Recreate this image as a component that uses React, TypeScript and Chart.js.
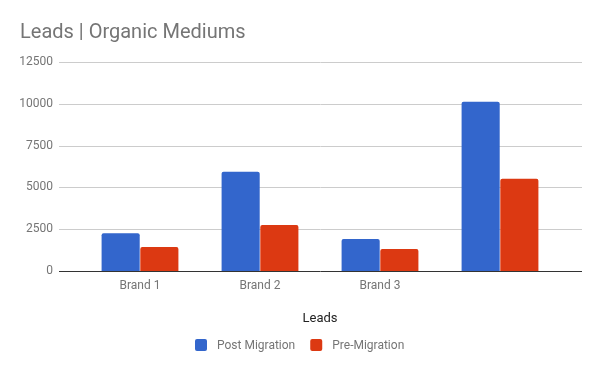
import React, { useEffect, useRef } from "react";
import { Chart, registerables } from "chart.js";
Chart.register(...registerables);

const categories = ["Brand 1", "Brand 2", "Brand 3", ""];
const postMigration = [2260, 5930, 1920, 10120];
const preMigration = [1440, 2750, 1320, 5510];
const yTicks = [0, 2500, 5000, 7500, 10000, 12500];
const seriesNames = ["Post Migration", "Pre-Migration"];
const seriesColors = ["#3366cc", "#dc3912"];
const chartTitle = "Leads | Organic Mediums";
const xAxisTitle = "Leads";

const FONT = "Roboto, 'Noto Sans', sans-serif";

const decor = {
  id: "decor",
  beforeDatasetsDraw(chart: any) {
    const ctx = chart.ctx;
    const y = chart.scales.y;
    ctx.save();
    ctx.strokeStyle = "#cccccc";
    ctx.lineWidth = 1;
    yTicks.forEach((v) => {
      if (v === 0) return;
      const py = Math.round(y.getPixelForValue(v)) + 0.5;
      ctx.beginPath();
      ctx.moveTo(59, py);
      ctx.lineTo(582, py);
      ctx.stroke();
    });
    ctx.restore();
  },
  afterDatasetsDraw(chart: any) {
    const ctx = chart.ctx;
    const y = chart.scales.y;
    const area = chart.chartArea;
    ctx.save();
    // baseline
    const py0 = Math.round(y.getPixelForValue(0)) + 0.5;
    ctx.strokeStyle = "#333333";
    ctx.lineWidth = 1;
    ctx.beginPath();
    ctx.moveTo(59, py0);
    ctx.lineTo(582, py0);
    ctx.stroke();
    // title
    ctx.font = `20px ${FONT}`;
    ctx.fillStyle = "#757575";
    ctx.textAlign = "left";
    ctx.textBaseline = "alphabetic";
    ctx.fillText(chartTitle, 20, 38);
    // x axis title
    ctx.font = `13px ${FONT}`;
    ctx.fillStyle = "#222222";
    ctx.textAlign = "center";
    ctx.fillText(xAxisTitle, (area.left + area.right) / 2, 322);
    // legend
    ctx.font = `12px ${FONT}`;
    const boxW = 12;
    const gapText = 10;
    const gapItem = 15;
    const widths = seriesNames.map((n) => ctx.measureText(n).width);
    let total = 0;
    widths.forEach((w, i) => {
      total += boxW + gapText + w;
      if (i < widths.length - 1) total += gapItem;
    });
    let x = Math.round(300 - total / 2);
    ctx.textAlign = "left";
    seriesNames.forEach((n, i) => {
      ctx.fillStyle = seriesColors[i];
      ctx.beginPath();
      (ctx as any).roundRect ? (ctx as any).roundRect(x, 339, boxW, boxW, 2) : ctx.rect(x, 339, boxW, boxW);
      ctx.fill();
      ctx.fillStyle = "#757575";
      ctx.fillText(n, x + boxW + gapText, 349);
      x += boxW + gapText + widths[i] + gapItem;
    });
    ctx.restore();
  },
};

export default function App() {
  const ref = useRef<HTMLCanvasElement>(null);
  useEffect(() => {
    if (!ref.current) return;
    const chart = new Chart(ref.current, {
      type: "bar",
      data: {
        labels: categories,
        datasets: [
          {
            label: seriesNames[0],
            data: postMigration,
            backgroundColor: seriesColors[0],
            borderRadius: 2,
            borderSkipped: "bottom",
          },
          {
            label: seriesNames[1],
            data: preMigration,
            backgroundColor: seriesColors[1],
            borderRadius: 2,
            borderSkipped: "bottom",
          },
        ],
      },
      options: {
        animation: false,
        responsive: false,
        devicePixelRatio: 1,
        layout: { padding: { top: 62, right: 40, left: 0, bottom: 0 } },
        datasets: {
          bar: { categoryPercentage: 0.645, barPercentage: 0.985 },
        },
        plugins: {
          legend: { display: false },
          title: { display: false },
          tooltip: { enabled: false },
        },
        scales: {
          x: {
            grid: { display: false, drawTicks: false },
            border: { display: false },
            ticks: {
              padding: 8,
              color: "#757575",
              font: { family: FONT, size: 12 },
              maxRotation: 0,
            },
            afterFit(scale: any) {
              scale.height = 100;
            },
          },
          y: {
            min: 0,
            max: 12500,
            grid: { display: false, drawTicks: false },
            border: { display: false },
            afterBuildTicks(scale: any) {
              scale.ticks = yTicks.map((v) => ({ value: v }));
            },
            ticks: {
              padding: 27,
              color: "#757575",
              font: { family: FONT, size: 12 },
              callback: (v: any) => String(v),
            },
            afterFit(scale: any) {
              scale.width = 80;
            },
          },
        },
      },
      plugins: [decor],
    });
    return () => chart.destroy();
  }, []);
  return (
    <div style={{ position: "fixed", left: 0, top: 0, width: 600, height: 371, background: "#fff" }}>
      <canvas ref={ref} width={600} height={371} style={{ width: 600, height: 371 }} />
    </div>
  );
}
